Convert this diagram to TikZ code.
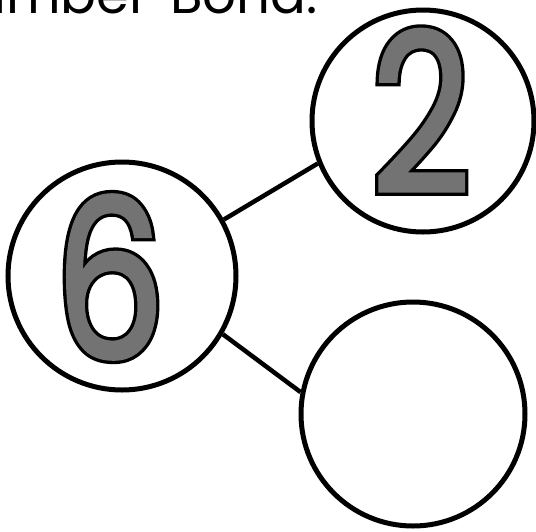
\documentclass[tikz,border=0pt]{standalone}
\usepackage{fontspec}
\setmainfont{Poppins}
\newfontfamily\digitfont[FakeStretch=0.78,FakeBold=1.5]{Poppins}
\newfontfamily\digitoutfont[FakeStretch=0.78,FakeBold=4.5]{Poppins}
\begin{document}
\begin{tikzpicture}[x=1pt,y=-1pt,
  bondcircle/.style={circle,draw=black,line width=5pt,inner sep=0pt},
  bondline/.style={draw=black,line width=4.5pt},
  digitout/.style={inner sep=0pt,text=black,font=\digitoutfont\fontsize{222}{222}\selectfont},
  digitin/.style={inner sep=0pt,text=black!55,font=\digitfont\fontsize{222}{222}\selectfont},
  titletext/.style={inner sep=0pt,font=\fontsize{53}{53}\selectfont}]
\useasboundingbox (0,0) rectangle (536,531);
\clip (0,0) rectangle (536,531);
\node[titletext,anchor=base east] (title) at (318,13) {Number\hspace{0.4em}Bond:};
\node[bondcircle,minimum size=222pt] (top) at (423,121) {};
\node[bondcircle,minimum size=228pt] (left) at (122,276) {};
\node[bondcircle,minimum size=224pt] (bot) at (413,414) {};
\node[digitout] (twoout) at (421,111) {2};
\node[digitin] (two) at (421,111) {2};
\node[digitout] (sixout) at (110,277) {6};
\node[digitin] (six) at (110,277) {6};
\draw[bondline] (left.29) -- (top.202.6);
\draw[bondline] (left.-30.7) -- (bot.169.1);
\end{tikzpicture}
\end{document}
